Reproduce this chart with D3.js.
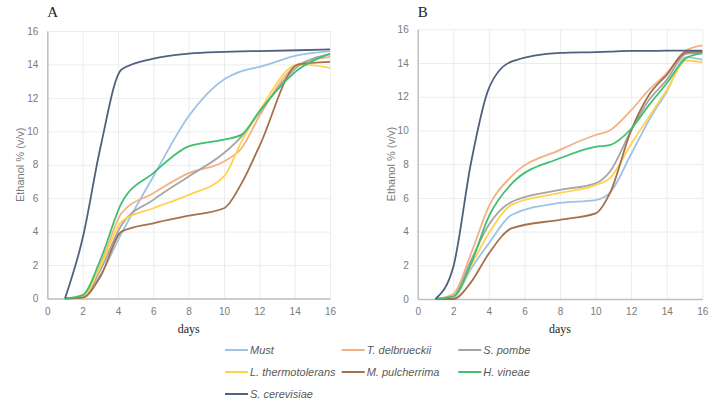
<!DOCTYPE html>
<html><head><meta charset="utf-8">
<script src="https://cdn.jsdelivr.net/npm/d3@7"></script>
<style>
body{margin:0;background:#fff;}
svg{display:block;font-family:"Liberation Sans",Arial,sans-serif;}
</style></head>
<body><svg id="c" width="714" height="404"></svg>
<script>
const seriesNames = ["Must","T. delbrueckii","S. pombe","L. thermotolerans","M. pulcherrima","H. vineae","S. cerevisiae"];
const seriesColors = ["#9dc3e6","#f4b183","#a5a5a5","#ffd34d","#a5714d","#3fbf6f","#50607f"];
const xTicks = [0,2,4,6,8,10,12,14,16];
const yTicks = [0,2,4,6,8,10,12,14,16];

// Panel A
const daysA = [1, 2, 3, 4.2, 6, 8, 10, 11, 12, 14.2, 16];
const mustA   = [0, 0.1, 1.4, 3.9, 7.3, 10.9, 13.1, 13.6, 13.85, 14.55, 14.8];
const tdelA   = [0, 0.15, 2.0, 5.1, 6.3, 7.5, 8.2, 9.0, 10.9, 14.0, 14.45];
const spomA   = [0, 0.1, 1.7, 4.4, 5.9, 7.3, 8.7, 9.7, 11.1, 13.9, 14.6];
const lthA    = [0, 0.1, 1.9, 4.6, 5.4, 6.2, 7.3, 9.4, 11.2, 14.0, 13.8];
const mpulA   = [0, 0.05, 1.3, 4.0, 4.5, 4.95, 5.4, 6.9, 9.1, 14.0, 14.15];
const hvinA   = [0, 0.2, 2.3, 5.7, 7.5, 9.1, 9.5, 9.8, 11.2, 13.7, 14.65];
const scerA   = [0, 3.6, 9.0, 13.7, 14.35, 14.65, 14.75, 14.78, 14.8, 14.85, 14.9];

// Panel B
const daysB = [1, 2, 3, 4, 5.3, 8, 10, 10.8, 12, 13, 14, 15.1, 16];
const mustB = [0, 0.1, 1.8, 3.3, 5.0, 5.7, 5.87, 6.3, 8.6, 10.6, 12.3, 14.35, 14.2];
const tdelB = [0, 0.3, 2.7, 5.5, 7.3, 8.85, 9.73, 10.0, 11.2, 12.4, 13.4, 14.75, 15.05];
const spomB = [0, 0.15, 2.3, 4.4, 5.77, 6.47, 6.86, 7.55, 10.0, 11.8, 13.0, 14.55, 14.6];
const lthB  = [0, 0.1, 2.0, 3.9, 5.6, 6.3, 6.76, 7.16, 9.2, 10.8, 12.4, 14.15, 14.05];
const mpulB = [0, 0.0, 1.0, 2.7, 4.2, 4.7, 5.08, 6.27, 10.0, 12.1, 13.3, 14.65, 14.67];
const hvinB = [0, 0.15, 2.1, 4.9, 6.86, 8.35, 9.03, 9.13, 10.1, 11.5, 12.8, 14.3, 14.57];
const scerB = [0, 1.9, 8.1, 12.5, 14.1, 14.6, 14.65, 14.68, 14.72, 14.72, 14.73, 14.73, 14.73];

const svg = d3.select("#c");
const gridColor = "#ececec", axisColor = "#bfbfbf", textColor = "#7a7a7a";

function panel(label, days, series, box){
  const x = d3.scaleLinear().domain([0,16]).range([box.x0, box.x1]);
  const y = d3.scaleLinear().domain([0,16]).range([box.y0, box.y1]);
  const g = svg.append("g");
  g.append("g").attr("transform",`translate(0,${box.y0})`)
    .call(d3.axisBottom(x).tickValues(xTicks).tickSize(-(box.y0-box.y1)).tickFormat(""))
    .call(a=>{a.select(".domain").remove(); a.selectAll("line").attr("stroke",gridColor);});
  g.append("g").attr("transform",`translate(${box.x0},0)`)
    .call(d3.axisLeft(y).tickValues(yTicks).tickSize(-(box.x1-box.x0)).tickFormat(""))
    .call(a=>{a.select(".domain").remove(); a.selectAll("line").attr("stroke",gridColor);});
  g.append("g").attr("transform",`translate(0,${box.y0})`)
    .call(d3.axisBottom(x).tickValues(xTicks).tickSize(0).tickPadding(9))
    .call(a=>{a.select(".domain").attr("stroke",axisColor).attr("stroke-width",1.5);
      a.selectAll("text").attr("fill",textColor).style("font-size","10px").style("font-family","Liberation Sans, Arial, sans-serif");});
  g.append("g").attr("transform",`translate(${box.x0},0)`)
    .call(d3.axisLeft(y).tickValues(yTicks).tickSize(0).tickPadding(9))
    .call(a=>{a.select(".domain").attr("stroke",axisColor).attr("stroke-width",1.5);
      a.selectAll("text").attr("fill",textColor).style("font-size","10px").style("font-family","Liberation Sans, Arial, sans-serif");});
  const line = d3.line().x((d,i)=>x(days[i])).y(d=>y(d)).curve(d3.curveMonotoneX);
  series.forEach((s,k)=>{
    g.append("path").datum(s).attr("d",line).attr("fill","none")
      .attr("stroke",seriesColors[k]).attr("stroke-width",1.8).attr("stroke-linejoin","round");
  });
  g.append("text").attr("x",box.x0).attr("y",17).text(label)
    .attr("font-family","Liberation Serif, Times New Roman, serif").attr("font-size",15).attr("fill","#222");
  g.append("text").attr("x",(box.x0+box.x1)/2).attr("y",333).attr("text-anchor","middle").text("days")
    .attr("font-family","Liberation Serif, Times New Roman, serif").attr("font-size",12).attr("fill","#222");
  g.append("text").attr("transform",`translate(${box.x0-27},${(box.y0+box.y1)/2}) rotate(-90)`)
    .attr("text-anchor","middle").attr("dy","0.35em").text("Ethanol % (v/v)")
    .attr("font-size",11).attr("fill",textColor);
}

panel("A", daysA, [mustA,tdelA,spomA,lthA,mpulA,hvinA,scerA], {x0:47.3,x1:330,y0:298.5,y1:31});
panel("B", daysB, [mustB,tdelB,spomB,lthB,mpulB,hvinB,scerB], {x0:417.7,x1:702.3,y0:299,y1:29.3});

const legX = [225, 341.7, 458.3], legY = [350, 372, 394];
const leg = svg.append("g");
seriesNames.forEach((n,i)=>{
  const cx = legX[i%3], cy = legY[Math.floor(i/3)];
  leg.append("line").attr("x1",cx).attr("x2",cx+23).attr("y1",cy).attr("y2",cy)
    .attr("stroke",seriesColors[i]).attr("stroke-width",2);
  leg.append("text").attr("x",cx+25).attr("y",cy).attr("dy","0.35em").text(n)
    .attr("font-size",11).attr("font-style","italic").attr("fill","#595959");
});
</script></body></html>
